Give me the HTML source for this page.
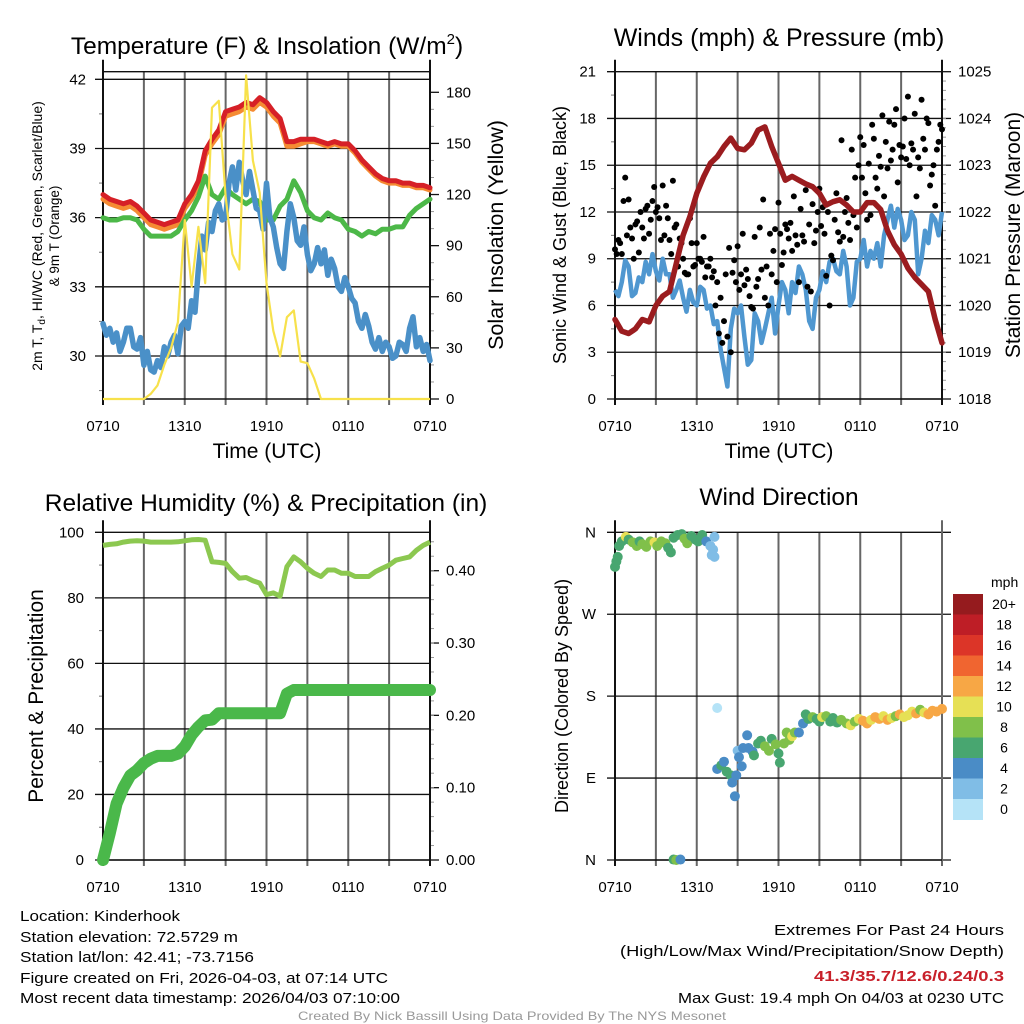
<!DOCTYPE html>
<html><head><meta charset="utf-8"><style>
html,body{margin:0;padding:0;background:#fff;}
svg{display:block;font-family:"Liberation Sans",sans-serif;}
</style></head><body>
<svg id="chart" width="1024" height="1024" viewBox="0 0 1024 1024" xmlns="http://www.w3.org/2000/svg">
<rect width="1024" height="1024" fill="#fff"/>
<g id="layer"></g>
<text x="267" y="54" font-size="24.5" text-anchor="middle">Temperature (F) &amp; Insolation (W/m<tspan dy="-10" font-size="15">2</tspan><tspan dy="10">)</tspan></text>
<text x="779" y="46" font-size="25" text-anchor="middle">Winds (mph) &amp; Pressure (mb)</text>
<text x="266" y="511" font-size="24.5" text-anchor="middle">Relative Humidity (%) &amp; Precipitation (in)</text>
<text x="779" y="505" font-size="24.5" text-anchor="middle">Wind Direction</text>
<text x="267" y="458" font-size="21" text-anchor="middle">Time (UTC)</text>
<text x="779" y="458" font-size="21" text-anchor="middle">Time (UTC)</text>
<text transform="translate(42,236) rotate(-90)" font-size="14" text-anchor="middle">2m T, T<tspan dy="3" font-size="10">d</tspan><tspan dy="-3">, HI/WC (Red, Green, Scarlet/Blue)</tspan></text>
<text transform="translate(59,236) rotate(-90)" font-size="13.5" text-anchor="middle">&amp; 9m T (Orange)</text>
<text transform="translate(503,235) rotate(-90)" font-size="21.5" text-anchor="middle">Solar Insolation (Yellow)</text>
<text transform="translate(566,235) rotate(-90)" font-size="18" text-anchor="middle">Sonic Wind &amp; Gust (Blue, Black)</text>
<text transform="translate(1020,235) rotate(-90)" font-size="21" text-anchor="middle">Station Pressure (Maroon)</text>
<text transform="translate(43,696) rotate(-90)" font-size="21" text-anchor="middle">Percent &amp; Precipitation</text>
<text transform="translate(568,696) rotate(-90)" font-size="18" text-anchor="middle">Direction (Colored By Speed)</text>
<g font-size="15">
<text x="20" y="921" textLength="160" lengthAdjust="spacingAndGlyphs">Location: Kinderhook</text>
<text x="20" y="942" textLength="218" lengthAdjust="spacingAndGlyphs">Station elevation: 72.5729 m</text>
<text x="20" y="962" textLength="234" lengthAdjust="spacingAndGlyphs">Station lat/lon: 42.41; -73.7156</text>
<text x="20" y="983" textLength="368" lengthAdjust="spacingAndGlyphs">Figure created on Fri, 2026-04-03, at 07:14 UTC</text>
<text x="20" y="1003" textLength="380" lengthAdjust="spacingAndGlyphs">Most recent data timestamp: 2026/04/03 07:10:00</text>
<text x="1004" y="935" text-anchor="end" textLength="230" lengthAdjust="spacingAndGlyphs">Extremes For Past 24 Hours</text>
<text x="1004" y="956" text-anchor="end" textLength="384" lengthAdjust="spacingAndGlyphs">(High/Low/Max Wind/Precipitation/Snow Depth)</text>
<text x="1004" y="981" text-anchor="end" fill="#c8202a" font-weight="bold" textLength="190" lengthAdjust="spacingAndGlyphs">41.3/35.7/12.6/0.24/0.3</text>
<text x="1004" y="1003" text-anchor="end" textLength="326" lengthAdjust="spacingAndGlyphs">Max Gust: 19.4 mph On 04/03 at 0230 UTC</text>
</g>
<text x="512" y="1020" font-size="12" fill="#999" text-anchor="middle" textLength="428" lengthAdjust="spacingAndGlyphs">Created By Nick Bassill Using Data Provided By The NYS Mesonet</text>
</svg>
<script>
const xTickLabels = ["0710","1310","1910","0110","0710"];
const tempRed = [37.0,36.8,36.7,36.6,36.7,36.5,36.2,35.9,35.8,35.7,35.8,35.9,36.6,37.0,37.6,38.9,39.4,39.8,40.6,40.7,40.8,41.0,40.9,41.2,41.0,40.6,40.3,39.3,39.3,39.4,39.4,39.4,39.3,39.2,39.3,39.2,39.2,38.9,38.5,38.2,37.9,37.7,37.6,37.6,37.5,37.5,37.4,37.4,37.3];
const tempOrange = [36.8,36.6,36.5,36.4,36.5,36.3,36.0,35.7,35.6,35.5,35.6,35.7,36.4,36.8,37.4,38.7,39.2,39.6,40.4,40.5,40.6,40.8,40.7,41.0,40.8,40.4,40.1,39.1,39.1,39.2,39.3,39.3,39.2,39.1,39.2,39.1,39.1,38.8,38.4,38.1,37.8,37.6,37.5,37.5,37.4,37.4,37.3,37.3,37.2];
const tempGreen = [36.0,35.9,35.9,36.0,36.0,35.9,35.5,35.2,35.2,35.2,35.2,35.4,35.9,36.3,36.9,37.8,37.0,36.8,37.3,37.0,36.8,36.6,36.8,36.7,35.9,35.9,36.5,36.8,37.6,37.1,36.3,36.0,35.9,36.2,36.0,35.9,35.5,35.4,35.2,35.4,35.3,35.5,35.5,35.6,35.6,36.1,36.4,36.6,36.8];
// quarter-hour blue temperature
const tempBlue = [31.4,30.9,31.2,30.6,31.0,30.2,30.6,31.2,31.2,30.4,30.3,30.8,29.6,30.2,29.4,29.3,29.8,29.5,30.4,30.0,30.6,30.9,30.1,31.3,31.5,31.2,32.4,31.9,33.8,35.2,34.6,35.8,35.4,36.3,36.6,35.9,36.0,37.5,38.2,37.2,38.4,37.6,37.0,38.0,37.2,36.4,36.3,35.5,37.5,36.0,35.6,34.7,34.0,33.8,35.4,36.6,36.0,35.0,34.8,35.6,34.4,33.7,34.0,34.7,34.0,34.6,33.5,34.2,33.8,33.0,32.8,33.4,33.0,32.5,32.3,31.5,31.2,31.8,31.3,30.6,30.3,30.8,30.2,30.6,30.4,29.9,30.0,30.6,30.5,30.2,31.2,31.7,30.4,30.8,30.2,30.5,29.8];
const solar = [0,0,0,0,0,0,0,3,8,20,30,45,105,66,101,68,171,175,119,85,76,190,140,121,68,40,25,48,52,22,21,12,0,0,0,0,0,0,0,0,0,0,0,0,0,0,0,0,0];
// quarter-hour sonic wind
const windSpeed = [7.0,6.6,7.5,8.9,8.5,6.6,6.8,7.8,7.5,8.8,8.0,9.3,8.2,7.6,9.0,8.0,8.0,6.5,7.0,7.6,6.5,5.6,7.0,6.2,6.0,7.2,7.0,5.8,6.0,4.8,5.0,3.2,2.0,0.8,4.5,5.8,5.5,6.0,4.0,2.2,2.5,5.5,5.0,3.6,4.5,5.5,6.5,4.2,6.0,7.5,7.0,5.5,7.5,6.8,8.5,8.0,7.0,5.0,4.5,6.5,7.0,8.2,7.5,8.8,9.0,8.2,8.0,9.5,8.5,6.0,6.5,8.8,9.0,10.2,8.5,9.5,9.0,10.0,8.5,10.5,11.5,12.4,11.0,12.2,11.5,10.2,10.5,12.0,11.5,8.0,9.0,10.8,10.0,11.8,11.5,10.5,12.0];
const pressure = [1019.7,1019.45,1019.4,1019.5,1019.7,1019.65,1020.0,1020.2,1020.3,1020.9,1021.5,1021.9,1022.4,1022.75,1023.04,1023.18,1023.4,1023.58,1023.36,1023.33,1023.47,1023.75,1023.82,1023.4,1023.04,1022.68,1022.76,1022.68,1022.6,1022.54,1022.4,1022.15,1022.22,1022.26,1022.15,1022.0,1022.0,1022.2,1022.2,1022.05,1021.6,1021.3,1021.1,1020.8,1020.6,1020.45,1020.3,1019.7,1019.2];
const gusts = [9.6,10.2,9.3,14.2,12.8,10.3,11.2,9.4,11.0,12.2,10.6,12.7,12.0,11.6,13.7,12.4,10.2,14.0,11.2,10.3,9.0,8.0,11.6,8.5,10.0,9.0,10.4,8.5,9.0,8.2,7.5,6.5,5.0,4.0,3.0,8.9,9.8,8.0,7.3,7.7,5.9,10.4,7.7,8.3,6.5,6.0,8.0,10.9,12.6,8.6,11.2,10.3,9.5,10.5,7.5,10.5,13.4,11.2,12.5,10.8,13.5,12.3,7.9,6.0,8.9,13.2,10.1,10.4,12.9,10.2,11.8,11.0,16.8,16.3,11.5,11.8,16.7,13.5,14.9,13.0,14.8,15.3,17.6,13.9,15.5,18.0,19.4,16.4,18.3,15.5,19.2,16.0,17.7,14.4,12.4,16.5,17.3];
const gusts2 = [9.3,10.0,12.7,10.5,11.0,9.0,11.4,12.0,10.3,12.4,11.5,13.6,12.3,10.2,10.5,11.6,9.3,11.0,8.5,10.0,8.1,8.0,10.0,8.6,9.0,8.8,7.8,8.5,7.8,6.0,4.2,3.6,8.0,9.7,8.1,7.5,7.0,10.6,8.3,6.6,5.8,7.2,11.0,12.8,8.5,10.6,9.5,7.5,10.6,9.4,10.9,11.3,13.0,9.9,12.2,10.1,7.2,6.9,10.0,12.0,11.1,10.6,12.0,9.2,11.5,10.7,16.6,12.0,11.3,16.0,14.2,15.0,14.2,13.2,15.1,17.6,14.2,15.6,18.2,16.5,17.8,16.0,18.6,16.3,16.2,15.4,15.0,16.0,13.0,14.8,16.7,18.0,13.7,15.0,16.0,17.6];
const humidity = [96,96.3,96.5,97,97.3,97.4,97.3,97,97,97,97,97.1,97.4,97.7,97.8,97.6,91.0,90.8,90.5,88,86,86.2,85.2,84.5,81,81.5,80.5,89.5,92.5,91,89,87.5,86.5,88.5,88.5,87.5,87.5,86.5,86.5,86.5,88,89,90,91.5,92,92.5,94.5,96,97];
const precip = [0,0.037,0.078,0.10,0.117,0.124,0.134,0.14,0.144,0.144,0.144,0.147,0.157,0.173,0.184,0.193,0.194,0.203,0.203,0.203,0.203,0.203,0.203,0.203,0.203,0.203,0.203,0.230,0.235,0.235,0.235,0.235,0.235,0.235,0.235,0.235,0.235,0.235,0.235,0.235,0.235,0.235,0.235,0.235,0.235,0.235,0.235,0.235,0.235];
const dirTimes = [0,0.1,0.2,0.3,0.5,0.8,1.0,1.3,1.6,1.8,2.0,2.3,2.6,2.9,3.1,3.4,3.7,3.9,4.1,4.3,4.6,4.9,5.1,5.3,5.6,5.9,6.1,6.4,6.7,7.0,7.2,7.3,7.1,7.3,4.3,4.5,4.8,7.5,7.5,7.8,8.0,8.2,8.5,8.6,8.8,8.9,9.0,9.1,9.3,9.4,9.7,9.8,10.1,10.2,10.5,10.7,11.0,11.3,11.5,11.8,12.0,12.1,12.4,12.6,12.8,13.0,13.2,13.5,13.8,14.0,14.2,14.5,14.8,15.0,15.2,15.5,15.8,16.0,16.3,16.6,17.0,17.3,17.6,17.9,18.2,18.5,18.8,19.1,19.4,19.7,20.0,20.3,20.6,20.9,21.2,21.5,21.8,22.1,22.4,22.7,23.0,23.3,23.6,24];
const dirValues = [322,328,333,345,350,355,352,349,345,350,347,344,350,349,345,350,348,343,338,354,357,358,353,348,356,352,350,357,350,345,341,355,335,333,0.5,0,0.5,167,100,104,108,97,93,85,70,93,120,113,103,123,137,123,119,115,128,131,125,120,133,127,117,107,128,140,132,136,140,140,150,160,155,157,155,152,157,158,152,156,151,154,150,148,152,155,153,150,154,157,155,158,154,156,158,160,157,159,163,161,165,162,160,164,163,166];
const dirSpeeds = [6,6,6,6,6,10,6,8,8,6,8,8,8,10,8,8,8,6,6,6,6,6,8,8,6,6,6,6,4,2,2,2,2,2,6,8,4,0,4,6,4,6,6,4,4,4,2,4,4,4,4,4,4,6,6,6,8,8,6,8,6,6,8,8,8,10,8,4,4,6,6,8,6,6,10,8,6,6,6,8,8,10,8,10,12,12,10,12,12,10,12,10,8,12,10,10,10,12,8,10,12,12,12,12];
const speedLevels = ["0","2","4","6","8","10","12","14","16","18","20+"];
const speedColors = ["#b5e3f7","#80bde6","#4a8cc6","#48a670","#80c04a","#e6e055","#f7a745","#f06530","#dc3528","#be1e26","#951b1e"];

const NS="http://www.w3.org/2000/svg";
const layer=document.getElementById('layer');
function mk(tag,attrs,parent){const e=document.createElementNS(NS,tag);for(const k in attrs)e.setAttribute(k,attrs[k]);(parent||layer).appendChild(e);return e;}
function lin(d0,d1,r0,r1){return v=>r0+(v-d0)/(d1-d0)*(r1-r0);}
function pathOf(ts,vs,xf,yf){return vs.map((v,i)=>(i?'L':'M')+xf(ts[i]).toFixed(1)+','+yf(v).toFixed(1)).join('');}
const halfT=tempRed.map((_,i)=>i*0.5);
const quarterT=gusts.map((_,i)=>i*0.25);

function frame(x0,x1,yT,yB,xf,hTicks,rightTicks,minorL,minorR,labY,rightAxis,labXL){
  const g=mk('g',{});
  for(let t=3;t<24;t+=3){mk('line',{x1:xf(t),x2:xf(t),y1:yT,y2:yB+6,stroke:'#666','stroke-width':2},g);}
  hTicks.forEach(([y,lab])=>{mk('line',{x1:x0-8,x2:rightAxis?x1:x1+9,y1:y,y2:y,stroke:'#111','stroke-width':1.3},g);
    const tx=mk('text',{x:labXL,y:y+5,'font-size':15,'text-anchor':'end'},g);tx.textContent=lab;
    
    });
  minorL.forEach(y=>mk('line',{x1:x0-4,x2:x0,y1:y,y2:y,stroke:'#777'},g));
  if(rightAxis){rightTicks.forEach(([y,lab])=>{mk('line',{x1:x1,x2:x1+9,y1:y,y2:y,stroke:'#111','stroke-width':1.3},g);
    const tx=mk('text',{x:x1+16,y:y+5,'font-size':15},g);tx.textContent=lab;
    
    });
    minorR.forEach(y=>mk('line',{x1:x1,x2:x1+4,y1:y,y2:y,stroke:'#999'},g));
    mk('line',{x1:x1,x2:x1,y1:yT-12,y2:yB+6,stroke:'#111','stroke-width':2},g);}
  else mk('line',{x1:x1,x2:x1,y1:yT-12,y2:yB+6,stroke:'#666','stroke-width':2},g);
  mk('line',{x1:x0,x2:x0,y1:yT-12,y2:yB+6,stroke:'#111','stroke-width':2},g);
  mk('line',{x1:x0,x2:x1,y1:yB,y2:yB,stroke:'#111','stroke-width':1.5},g);
  xTickLabels.forEach((lab,i)=>{const tx=mk('text',{x:xf(i*6),y:labY,'font-size':15,'text-anchor':'middle'},g);tx.textContent=lab;
    
    });
  return g;
}

(function(){
  const x0=103,x1=430,yT=71.7,yB=399;
  const xf=lin(0,24,x0,x1), yf=lin(30,42,356,79.3), sf=lin(0,180,399,92.3);
  const h=[30,33,36,39,42].map(v=>[yf(v),String(v)]);
  const r=[0,30,60,90,120,150,180].map(v=>[sf(v),String(v)]);
  const mL=[28.5,31.5,34.5,37.5,40.5].map(yf);
  const mR=[];for(let v=10;v<190;v+=10)if(v%30)mR.push(sf(v));
  const g=frame(x0,x1,yT,yB,xf,h,r,mL,mR,431,true,86);
  
  
  mk('line',{x1:x0,x2:x1,y1:yT,y2:yT,stroke:'#111','stroke-width':1.3},g);
  const series=[[tempOrange,'#f58b33','temp-9m-line'],[tempRed,'#d62027','temp-2m-line'],[tempGreen,'#4cb848','heat-index-line']];
  series.forEach(([d,c,n])=>{const p=mk('path',{d:pathOf(halfT,d,xf,yf),fill:'none',stroke:c,'stroke-width':5,'stroke-linejoin':'round','stroke-linecap':'round'},g);
    
    });
  let p=mk('path',{d:pathOf(quarterT,tempBlue,xf,yf),fill:'none',stroke:'#4a90c8','stroke-width':5.5,'stroke-linejoin':'round','stroke-linecap':'round'},g);
  
  
  p=mk('path',{d:pathOf(halfT,solar,xf,sf),fill:'none',stroke:'#f7e14b','stroke-width':2.2,'stroke-linejoin':'round'},g);
  
  
})();

(function(){
  const x0=615,x1=942,yT=71.7,yB=399;
  const xf=lin(0,24,x0,x1), yf=lin(0,21,399,71.7), pf=lin(1018,1025,399,71.7);
  const h=[0,3,6,9,12,15,18,21].map(v=>[yf(v),String(v)]);
  const r=[1018,1019,1020,1021,1022,1023,1024,1025].map(v=>[pf(v),String(v)]);
  const mL=[1.5,4.5,7.5,10.5,13.5,16.5,19.5].map(yf);
  const mR=[];for(let v=1018.2;v<1025;v+=0.2)mR.push(pf(v));
  const g=frame(x0,x1,yT,yB,xf,h,r,mL,mR,431,true,596);
  
  
  let p=mk('path',{d:pathOf(quarterT,windSpeed,xf,yf),fill:'none',stroke:'#4f97d0','stroke-width':4.5,'stroke-linejoin':'round'},g);
  
  
  gusts.forEach((v,i)=>{const c=mk('circle',{cx:xf(quarterT[i]),cy:yf(v),r:3,fill:'#000'},g);
    
    });
  gusts2.forEach((v,i)=>{const t=i*0.25+0.125;if(t>24)return;
    const c=mk('circle',{cx:xf(t),cy:yf(v),r:3,fill:'#000'},g);
    
    });
  p=mk('path',{d:pathOf(halfT,pressure,xf,pf),fill:'none',stroke:'#9b1c1f','stroke-width':5.5,'stroke-linejoin':'round','stroke-linecap':'round'},g);
  
  
})();

(function(){
  const x0=103,x1=430,yT=532.3,yB=860;
  const xf=lin(0,24,x0,x1), yf=lin(0,100,860,532.3), rf=lin(0,0.4,860,570.7);
  const h=[0,20,40,60,80,100].map(v=>[yf(v),String(v)]);
  const r=[0,0.1,0.2,0.3,0.4].map(v=>[rf(v),v.toFixed(2)]);
  const mL=[10,30,50,70,90].map(yf);
  const mR=[];for(let v=0.02;v<0.45;v+=0.02)mR.push(rf(v));
  const g=frame(x0,x1,yT,yB,xf,h,r,mL,mR,892,true,84);
  
  
  let p=mk('path',{d:pathOf(halfT,humidity,xf,yf),fill:'none',stroke:'#8cc850','stroke-width':5,'stroke-linejoin':'round'},g);
  
  
  p=mk('path',{d:pathOf(halfT,precip,xf,rf),fill:'none',stroke:'#4ab84a','stroke-width':12,'stroke-linejoin':'round','stroke-linecap':'round'},g);
  
  
})();

(function(){
  const x0=615,x1=942,yT=532.3,yB=860;
  const xf=lin(0,24,x0,x1), yf=lin(0,360,860,532.3);
  const h=[[yf(0),'N'],[yf(90),'E'],[yf(180),'S'],[yf(270),'W'],[yf(360),'N']];
  const g=frame(x0,x1,yT,yB,xf,h,[],[],[],892,false,596);
  
  
  dirTimes.forEach((t,i)=>{const idx=Math.min(10,Math.round(dirSpeeds[i]/2));
    const c=mk('circle',{cx:xf(t),cy:yf(dirValues[i]),r:5,fill:speedColors[idx]},g);
    
    });
  const cb=mk('g',{});
  
  
  const t=mk('text',{x:991,y:587,'font-size':14},cb);t.textContent='mph';
  const top=594,hh=20.5;
  speedLevels.forEach((lab,i)=>{const k=10-i;
    const rc=mk('rect',{x:953,y:top+i*hh,width:30,height:hh+0.5,fill:speedColors[k]},cb);
    
    
    const tx=mk('text',{x:1004,y:top+i*hh+15,'font-size':14,'text-anchor':'middle'},cb);tx.textContent=speedLevels[k];
    
    });
})();
</script>
</body></html>
